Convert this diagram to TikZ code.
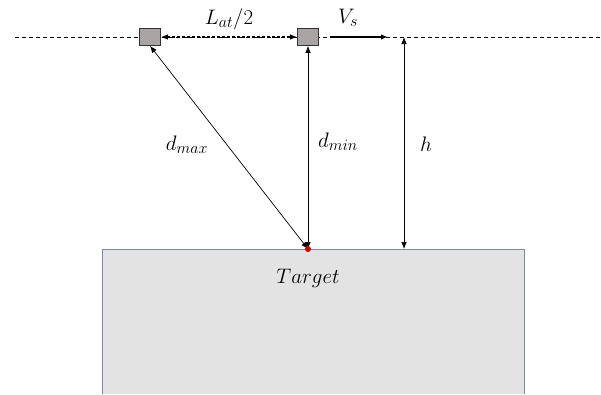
\documentclass[tikz,border=0pt]{standalone}
\usepackage{fix-cm}
\DeclareMathSizes{21}{21}{16}{12}
\usetikzlibrary{arrows.meta}
\definecolor{sqfill}{HTML}{A8A4A4}
\definecolor{tgfill}{HTML}{E3E3E3}
\definecolor{tgedge}{HTML}{7F89A6}
\tikzset{
  sat/.style={draw=black!80, fill=sqfill, line width=0.7pt, minimum width=21pt, minimum height=17pt, inner sep=0pt},
  lbl/.style={font=\fontsize{21}{24}\selectfont, inner sep=0pt},
  thinarr/.style={line width=0.7pt, {Latex[length=7pt,width=5.5pt]}-{Latex[length=7pt,width=5.5pt]}},
  orbit/.style={dashed, dash pattern=on 4pt off 3pt, line width=0.7pt},
}
\begin{document}
\begin{tikzpicture}[x=1pt,y=-1pt]
\useasboundingbox (0,0) rectangle (601,394);
% target
\fill[tgfill] (102,249) rectangle (524,394);
\draw[tgedge, line width=0.8pt] (102,394) -- (102,249) -- (524,249) -- (524,394);
% orbit line
\coordinate (oL) at (15,37);
\coordinate (oR) at (601,37);
\draw[orbit] (oL) -- (oR);
% satellites
\node[sat] (s1) at (150,37) {};
\node[sat] (s2) at (308,37) {};
% target point
\coordinate (t) at (308,249);
% L_at/2
\draw[line width=1.1pt, dashed, dash pattern=on 3pt off 2pt, {Latex[length=7pt,width=5.5pt]}-{Latex[length=7pt,width=5.5pt]}] (s1.east) -- (s2.west);
\node[lbl] (lat) at (229,19) {$L_{at}/2$};
% V_s
\coordinate (v1) at (330,37);
\coordinate (v2) at (388,37);
\draw[line width=1.4pt, -{Latex[length=7pt,width=5.5pt]}] (v1) -- (v2);
\node[lbl] (vs) at (348,18) {$V_s$};
% h
\coordinate (h1) at (404,37);
\coordinate (h2) at (404,249);
\draw[thinarr] (h1) -- (h2);
\node[lbl] (hl) at (426,144) {$h$};
% d_min, d_max
\draw[thinarr] (t) -- (s2.south);
\draw[thinarr] (t) -- (s1.south);
\node[lbl] (dmin) at (338,142) {$d_{min}$};
\node[lbl] (dmax) at (187,145) {$d_{max}$};
% red dot
\fill[red!85!black] (t) circle (3pt);
\node[lbl] (tg) at (308,278) {$Target$};
\end{tikzpicture}
\end{document}
